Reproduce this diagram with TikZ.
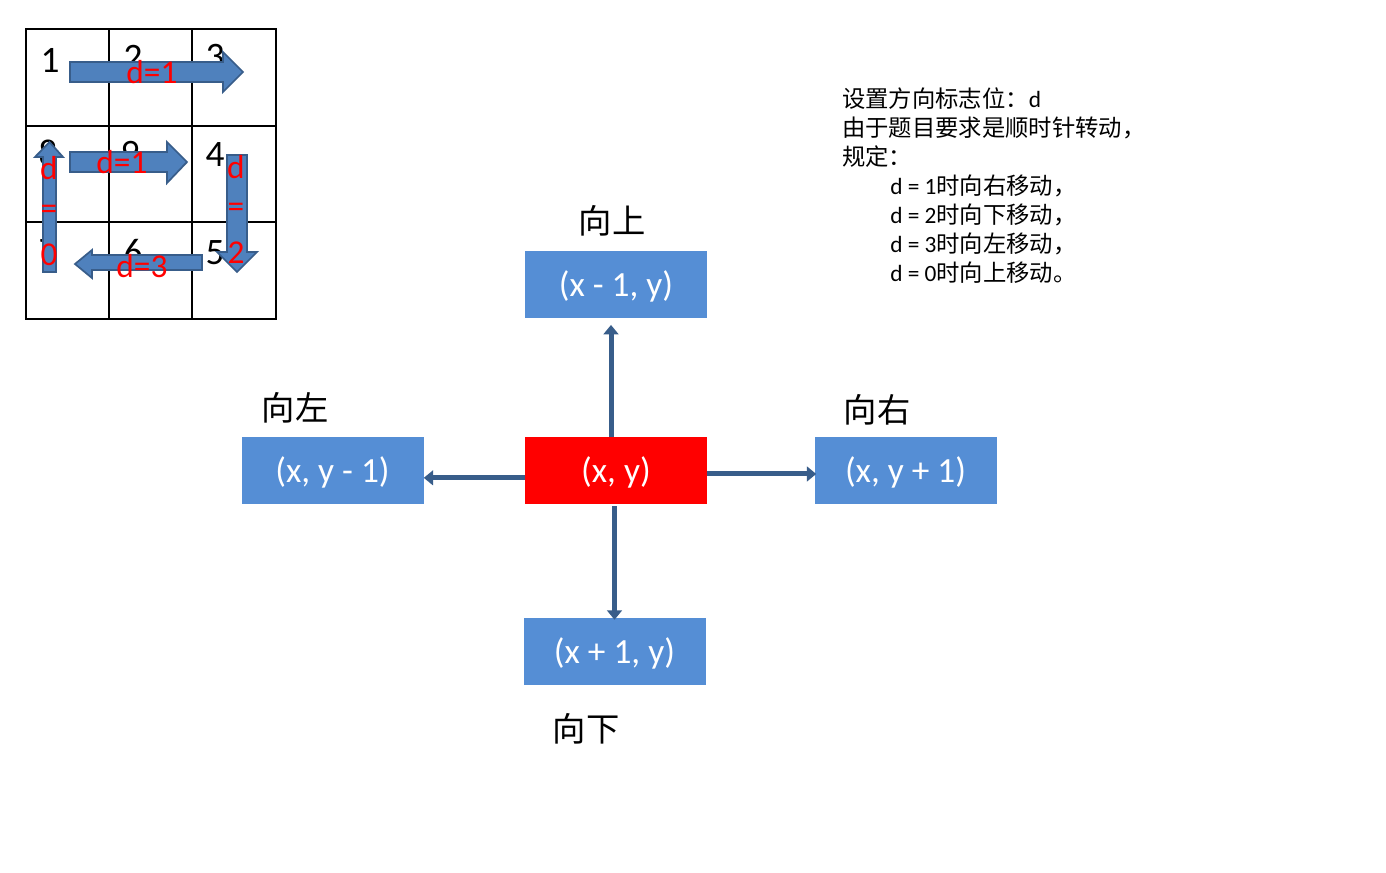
\documentclass[tikz,border=0pt]{standalone}
\usepackage{fontspec}
\setmainfont{Carlito}
\newfontfamily\cjk{Noto Sans CJK SC}
\usetikzlibrary{arrows.meta,positioning}
\definecolor{boxblue}{RGB}{85,142,213}
\definecolor{linkblue}{RGB}{56,93,138}
\definecolor{arrowfill}{RGB}{79,129,189}

\begin{document}
\begin{tikzpicture}[x=0.75pt,y=-0.75pt,
  cell/.style={fill=boxblue,text=white,minimum width=136.5pt,minimum height=50.25pt,inner sep=0pt,text height=20pt,text depth=2pt,font=\fontsize{26.5}{30}\selectfont},
  title/.style={font=\cjk\fontsize{25}{30}\selectfont},
  link/.style={draw=linkblue,line width=3.75pt,-{Triangle[width=11pt,length=7pt]}},
  blockarrow/.style={fill=arrowfill,draw=linkblue,line width=1.3pt,line join=miter},
  num/.style={font=\fontsize{28}{28}\selectfont},
  dlabel/.style={text=red,font=\fontsize{25}{25}\selectfont}]
  \useasboundingbox[fill=white] (0,0) rectangle (1386,872);

  % spiral grid
  \draw[line width=1.5pt] (26,29) rectangle (276,319);
  \foreach \x in {109,192} \draw[line width=1.5pt] (\x,29) -- (\x,319);
  \foreach \y in {126,222} \draw[line width=1.5pt] (26,\y) -- (276,\y);
  \foreach \n/\x/\y in {1/50/60,2/133/57,3/215/57,8/48/153,9/130/153,4/215/155,7/48/252,6/133/252,5/215/253}
    \node[num] at (\x,\y) {\n};
  \filldraw[blockarrow] (70,62) -- (223,62) -- (223,52) -- (243,72) -- (223,92) -- (223,82) -- (70,82) -- cycle;
  \filldraw[blockarrow] (70,152) -- (167,152) -- (167,142) -- (187,162) -- (167,183) -- (167,172) -- (70,172) -- cycle;
  \filldraw[blockarrow] (43,272) -- (43,157) -- (35,157) -- (49.5,142) -- (63,157) -- (56,157) -- (56,272) -- cycle;
  \filldraw[blockarrow] (227,155) -- (247,155) -- (247,252) -- (257,252) -- (237,272) -- (217,252) -- (227,252) -- cycle;
  \filldraw[blockarrow] (202,255) -- (92,255) -- (92,250) -- (75,264) -- (92,278) -- (92,270) -- (202,270) -- cycle;
  \node[dlabel] at (152,72) {d=1};
  \node[dlabel] at (122,162) {d=1};
  \node[dlabel] at (142,266) {d=3};
  \foreach \t/\y in {d/168,=/212,0/255} \node[dlabel] at (49,\y) {\t};
  \foreach \t/\y in {d/167,=/210,2/253} \node[dlabel] at (236,\y) {\t};

  % notes
  \node[anchor=north west,align=left,inner sep=0pt,font=\fontsize{17.5}{21.75}\selectfont] (note) at (842,87)
    {{\cjk 设置方向标志位：}d\\
     {\cjk 由于题目要求是顺时针转动，}\\
     {\cjk 规定：}\\
     \hspace*{36pt}d = 1{\cjk 时向右移动，}\\
     \hspace*{36pt}d = 2{\cjk 时向下移动，}\\
     \hspace*{36pt}d = 3{\cjk 时向左移动，}\\
     \hspace*{36pt}d = 0{\cjk 时向上移动。}};

  % neighbours
  \node[cell,fill=red] (ctr) at (616,470.5) {(x, y)};
  \node[cell] (up) at (616,284.5) {(x - 1, y)};
  \node[cell] (left) at (332.5,470.5) {(x, y - 1)};
  \node[cell] (right) at (905.5,470.5) {(x, y + 1)};
  \node[cell] (down) at (614.5,651.5) {(x + 1, y)};
  \node[title] (tup) at (612,221) {向上};
  \node[title] (tleft) at (295,408) {向左};
  \node[title] (tright) at (877,410) {向右};
  \node[title] (tdown) at (586,729) {向下};

  \draw[link] ([xshift=-3.75pt]ctr.north) -- ([xshift=-3.75pt,yshift=-5pt]up.south);
  \draw[link] ([yshift=-5.5pt]ctr.west) -- ([yshift=-5.5pt]left.east);
  \draw[link] ([yshift=-2.6pt]ctr.east) -- ([yshift=-2.6pt,xshift=1.5pt]right.west);
  \draw[link] ([yshift=-1.5pt]ctr.south -| down.north) -- ([yshift=-1.5pt]down.north);
\end{tikzpicture}
\end{document}
